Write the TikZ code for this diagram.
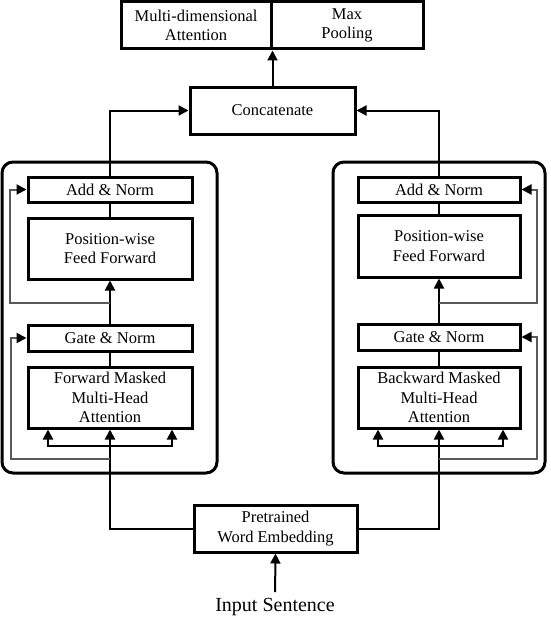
\documentclass[tikz,border=0pt]{standalone}
\usepackage{fontspec}
\setmainfont{Liberation Serif}
\usetikzlibrary{arrows.meta,calc}
\begin{document}
\begin{tikzpicture}[x=1pt,y=-1pt,
  box/.style={draw,line width=3pt,inner sep=0pt,align=center,font=\fontsize{16.5}{19.5}\selectfont},
  panel/.style={draw,line width=3pt,rounded corners=11pt},
  conn/.style={line width=2pt},
  res/.style={line width=2pt,draw=black!65},
  arr/.style={-{Triangle[length=10pt,width=10pt]}},
  rarr/.style={-{Triangle[length=10pt,width=10pt,color=black]}}
]
\useasboundingbox (0,0) rectangle (550,618);
% top
\node[box,minimum width=150pt,minimum height=47pt] (mda) at (196,25.5) {Multi-dimensional\\Attention};
\node[box,minimum width=152pt,minimum height=47pt] (mp) at (347,25.5) {Max\\Pooling};
\node[box,minimum width=165pt,minimum height=47pt] (cat) at (272.5,110.5) {Concatenate};
% panels
\draw[panel] (2,162) rectangle (217,473);
\draw[panel] (333,162) rectangle (545,473);
% left column
\node[box,minimum width=164pt,minimum height=25pt] (ladd) at (110,189.5) {Add \& Norm};
\node[box,minimum width=164pt,minimum height=61pt] (lpff) at (110,248.5) {Position-wise\\Feed Forward};
\node[box,minimum width=164pt,minimum height=26pt] (lgate) at (110,338) {Gate \& Norm};
\node[box,minimum width=164pt,minimum height=61pt] (lmha) at (110,397.5) {Forward Masked\\Multi-Head\\Attention};
% right column
\node[box,minimum width=162pt,minimum height=25pt] (radd) at (439,189.5) {Add \& Norm};
\node[box,minimum width=162pt,minimum height=62pt] (rpff) at (439,246) {Position-wise\\Feed Forward};
\node[box,minimum width=162pt,minimum height=26pt] (rgate) at (439,337) {Gate \& Norm};
\node[box,minimum width=162pt,minimum height=61pt] (rmha) at (439,397.5) {Backward Masked\\Multi-Head\\Attention};
% embedding
\node[box,minimum width=163pt,minimum height=47pt] (emb) at (275.5,528.5) {Pretrained\\Word Embedding};
\node[font=\fontsize{20}{24}\selectfont,inner sep=0pt] (inp) at (275,607) {Input Sentence};

% coordinates
\coordinate (lr1) at (110,303);
\coordinate (lr2) at (110,459);
\coordinate (lsplit) at (110,446);
\coordinate (rr1) at (439,303);
\coordinate (rr2) at (439,459);
\coordinate (rsplit) at (439,446);

% top connectors
\draw[conn,arr] (cat.north) -- (cat.north |- mda.south);
\draw[conn,arr] (ladd.north) |- (cat.west);
\draw[conn,arr] (radd.north) |- (cat.east);
% left stack
\draw[conn] (lpff.north) -- (ladd.south);
\draw[conn,arr] (lgate.north) -- (lpff.south);
\draw[conn] (lmha.north) -- (lgate.south);
\draw[conn,arr] (emb.west) -| (lmha.south);
\draw[conn,arr] (lsplit) -| ([xshift=-62pt]lmha.south);
\draw[conn,arr] (lsplit) -| ([xshift=62pt]lmha.south);
\draw[res,rarr] (lr1) -- (10,303) |- (ladd.west);
\draw[res,rarr] (lr2) -- (11,459) |- (lgate.west);
% right stack
\draw[conn] (rpff.north) -- (radd.south);
\draw[conn,arr] (rgate.north) -- (rpff.south);
\draw[conn] (rmha.north) -- (rgate.south);
\draw[conn,arr] (emb.east) -| (rmha.south);
\draw[conn,arr] (rsplit) -| ([xshift=-61pt]rmha.south);
\draw[conn,arr] (rsplit) -| ([xshift=64pt]rmha.south);
\draw[res,rarr] (rr1) -- (537,303) |- (radd.east);
\draw[res,rarr] (rr2) -- (537,459) |- (rgate.east);
% input
\draw[conn,arr,shorten <=6pt] (inp.north) -- (emb.south);
\end{tikzpicture}
\end{document}
